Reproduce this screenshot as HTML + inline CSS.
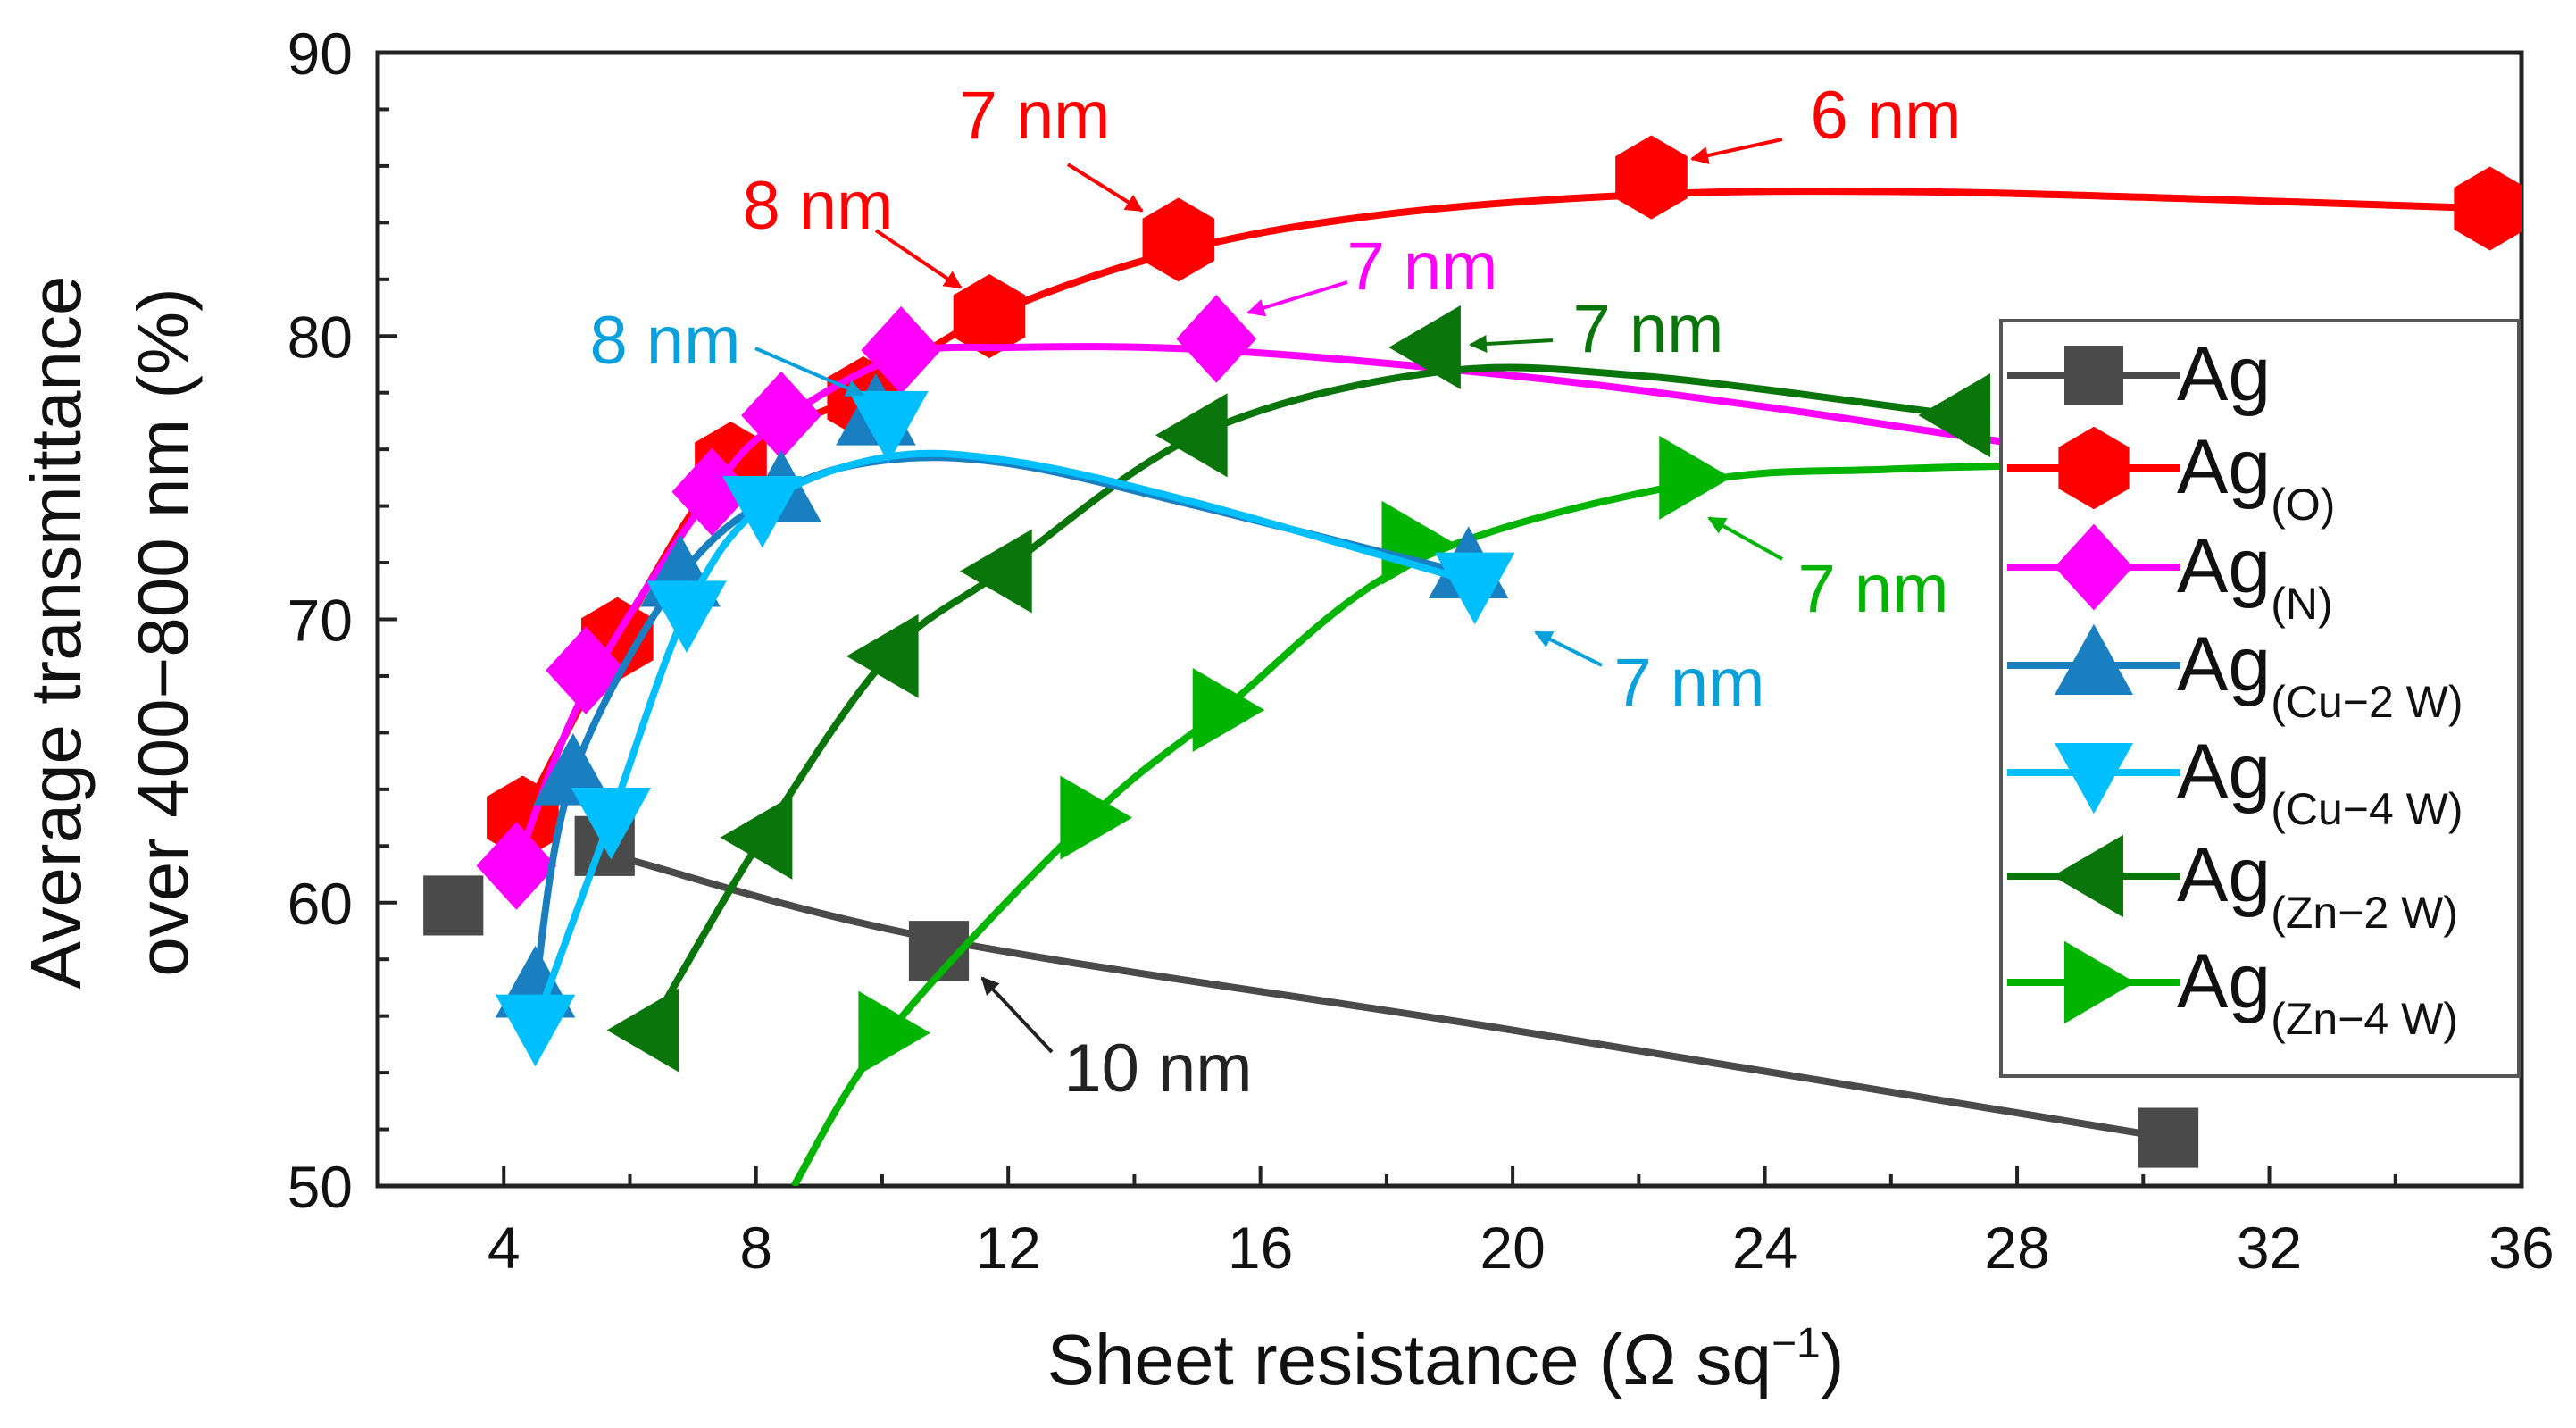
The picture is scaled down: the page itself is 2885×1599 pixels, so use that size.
<!DOCTYPE html>
<html><head><meta charset="utf-8"><style>
html,body{margin:0;padding:0;background:#fff;}
svg{display:block;font-family:"Liberation Sans",sans-serif;}
</style></head><body>
<svg id="chart" width="2885" height="1599" viewBox="0 0 2885 1599" xmlns="http://www.w3.org/2000/svg">
<defs>
<marker id="ah" viewBox="0 0 10 10" refX="9" refY="5" markerWidth="5" markerHeight="5" orient="auto-start-reverse"><path d="M0,0 L10,5 L0,10 z" fill="context-stroke"/></marker>
</defs>
<g id="plot"></g>
</svg>
<script>
const xTicks=[4,8,12,16,20,24,28,32,36];
const yTicks=[50,60,70,80,90];
const seriesNames=["Ag","Ag(O)","Ag(N)","Ag(Cu-2 W)","Ag(Cu-4 W)","Ag(Zn-2 W)","Ag(Zn-4 W)"];
const agX=[3.2,5.6,10.9,30.4];
const agY=[59.9,62.0,58.3,51.7];
const agOX=[4.3,5.8,7.6,9.7,11.7,14.7,22.2,35.5];
const agOY=[63.0,69.3,75.5,77.8,80.7,83.4,85.6,84.5];
const agNX=[4.2,5.3,7.3,8.4,10.3,15.3];
const agNY=[61.3,68.2,74.5,77.2,79.5,79.9];
const cu2X=[4.5,5.1,6.8,8.4,9.9,19.3];
const cu2Y=[57.0,64.5,71.5,74.5,77.2,71.8];
const cu4X=[4.5,5.7,6.9,8.1,10.1,19.4];
const cu4Y=[55.7,63.0,70.3,74.0,77.0,71.3];
const zn2X=[6.3,8.1,10.1,11.9,15.0,18.7,27.1];
const zn2Y=[55.5,62.3,68.7,71.7,76.5,79.6,77.2];
const zn4X=[10.1,13.3,15.4,18.4,22.8];
const zn4Y=[55.4,63.0,66.8,72.7,75.0];
// fitted curves
const agCurveX=[6,10.9,20,30.4];
const agCurveY=[61.5,58.7,55.5,51.7];
const oCurveX=[4.3,5.8,7.6,9.7,11.7,14.7,18,22.2,26,30,35.5];
const oCurveY=[63.0,69.3,75.5,78.0,80.7,83.0,84.3,85.0,85.1,84.9,84.5];
const nCurveX=[4.2,5.3,7.3,8.4,10.3,12,15.3,20,24,28,30];
const nCurveY=[61.3,67.5,74.5,77.0,79.3,79.6,79.5,78.6,77.5,76.2,75.8];
const cu2CurveX=[4.5,5.1,6.8,8.4,10,12,15,19.3];
const cu2CurveY=[57.0,64.5,71.5,74.5,75.6,75.5,74.0,71.6];
const cu4CurveX=[4.5,5.7,6.9,8.1,10,12,15,19.4];
const cu4CurveY=[55.7,63.0,70.3,74.0,75.7,75.6,74.1,71.3];
const zn2CurveX=[6.3,8.1,10.1,11.9,15.0,18.7,22,27.1];
const zn2CurveY=[55.5,62.3,68.7,71.7,76.5,78.7,78.6,77.2];
const zn4CurveX=[8.6,10.1,13.3,15.4,18.4,22.8,26,30];
const zn4CurveY=[50.0,55.4,63.0,66.8,72.0,74.8,75.3,75.5];

const L=423,R=2824,T=59,B=1328;
const xs=v=>L+(v-2)/(36-2)*(R-L);
const ys=v=>B-(v-50)/(90-50)*(B-T);
const NS="http://www.w3.org/2000/svg";
const g=document.getElementById('plot');
function mk(tag,attrs,parent){const e=document.createElementNS(NS,tag);for(const k in attrs)e.setAttribute(k,attrs[k]);(parent||g).appendChild(e);return e;}
function smooth(X,Y){const p=X.map((x,i)=>[xs(x),ys(Y[i])]);let d=`M${p[0][0]},${p[0][1]}`;for(let i=0;i<p.length-1;i++){const p0=p[i-1]||p[i],p1=p[i],p2=p[i+1],p3=p[i+2]||p2;const c1=[p1[0]+(p2[0]-p0[0])/6,p1[1]+(p2[1]-p0[1])/6],c2=[p2[0]-(p3[0]-p1[0])/6,p2[1]-(p3[1]-p1[1])/6];d+=` C${c1[0]},${c1[1]} ${c2[0]},${c2[1]} ${p2[0]},${p2[1]}`;}return d;}
function marker(type,cx,cy,color,parent,sc){sc=sc||1.12;let pts;
if(type==='sq'){pts=[[-30,-30],[30,-30],[30,30],[-30,30]];}
else if(type==='hex'){pts=[[0,-42],[36,-21],[36,21],[0,42],[-36,21],[-36,-21]];}
else if(type==='dia'){pts=[[0,-44],[40,0],[0,44],[-40,0]];}
else if(type==='up'){pts=[[0,-42],[40,30],[-40,30]];}
else if(type==='down'){pts=[[0,42],[40,-30],[-40,-30]];}
else if(type==='left'){pts=[[-42,0],[30,-42],[30,42]];}
else {pts=[[42,0],[-30,-42],[-30,42]];}
return mk('polygon',{points:pts.map(p=>(cx+p[0]*sc)+','+(cy+p[1]*sc)).join(' '),fill:color},parent);}

const cp=mk('clipPath',{id:'clip'},document.querySelector('defs'));mk('rect',{x:L,y:T,width:R-L,height:B-T},cp);

const frame=mk('rect',{x:L,y:T,width:R-L,height:B-T,fill:'none',stroke:'#222','stroke-width':5});


for(let v=2;v<=36;v+=2){const maj=xTicks.includes(v);const t=mk('line',{x1:xs(v),x2:xs(v),y1:B,y2:B-(maj?22:13),stroke:'#222','stroke-width':4});

}
for(let v=50;v<=90;v+=2){const maj=yTicks.includes(v);const t=mk('line',{x1:L,x2:L+(maj?22:13),y1:ys(v),y2:ys(v),stroke:'#222','stroke-width':4});

}
xTicks.forEach(v=>{const t=mk('text',{x:xs(v),y:1420,'font-size':66,'text-anchor':'middle',fill:'#111'});t.textContent=v;

});
yTicks.forEach(v=>{const t=mk('text',{x:395,y:ys(v)+24,'font-size':66,'text-anchor':'end',fill:'#111'});t.textContent=v;

});
let xt=mk('text',{x:1619,y:1550,'font-size':80,'text-anchor':'middle',fill:'#111'});xt.textContent='Sheet resistance (Ω sq';
const sup=mk('tspan',{dy:-30,'font-size':48},xt);sup.textContent='−1';const cl=mk('tspan',{dy:30},xt);cl.textContent=')';


let yt=mk('text',{transform:'translate(90,708) rotate(-90)','font-size':80,'text-anchor':'middle',fill:'#111'});yt.textContent='Average transmittance';


let yt2=mk('text',{transform:'translate(210,708) rotate(-90)','font-size':80,'text-anchor':'middle',fill:'#111'});yt2.textContent='over 400−800 nm (%)';



const series=[
 {name:'ag',X:agX,Y:agY,cx:agCurveX,cy:agCurveY,c:'#4a4a4a',m:'sq'},
 {name:'ag-o',X:agOX,Y:agOY,cx:oCurveX,cy:oCurveY,c:'#ff0000',m:'hex'},
 {name:'ag-n',X:agNX,Y:agNY,cx:nCurveX,cy:nCurveY,c:'#ff00ff',m:'dia'},
 {name:'ag-zn-2w',X:zn2X,Y:zn2Y,cx:zn2CurveX,cy:zn2CurveY,c:'#0a750a',m:'left'},
 {name:'ag-zn-4w',X:zn4X,Y:zn4Y,cx:zn4CurveX,cy:zn4CurveY,c:'#00b400',m:'right'},
 {name:'ag-cu-2w',X:cu2X,Y:cu2Y,cx:cu2CurveX,cy:cu2CurveY,c:'#1a7fc1',m:'up'},
 {name:'ag-cu-4w',X:cu4X,Y:cu4Y,cx:cu4CurveX,cy:cu4CurveY,c:'#00bfff',m:'down'}
];
const clipG=mk('g',{'clip-path':'url(#clip)'});
series.forEach(s=>{
 const sg=mk('g',{},clipG);
 
 
 const p=mk('path',{d:smooth(s.cx,s.cy),fill:'none',stroke:s.c,'stroke-width':8},sg);
 
 
 s.X.forEach((x,i)=>{const m=marker(s.m,xs(x),ys(s.Y[i]),s.c,sg);
 
 });
});

const ann=[
 {t:'7 nm',x:1159,y:155,c:'#ff0000',a:[1196,184,1279,236]},
 {t:'6 nm',x:2112,y:155,c:'#ff0000',a:[1996,156,1895,178]},
 {t:'8 nm',x:916,y:256,c:'#ff0000',a:[981,258,1076,322]},
 {t:'7 nm',x:1593,y:324,c:'#ff00ff',a:[1509,316,1398,350]},
 {t:'8 nm',x:745,y:407,c:'#0aa0dc',a:[846,390,966,442]},
 {t:'7 nm',x:1846,y:394,c:'#0a750a',a:[1739,381,1647,386]},
 {t:'7 nm',x:2098,y:685,c:'#00b400',a:[1996,626,1914,580]},
 {t:'7 nm',x:1892,y:790,c:'#0aa0dc',a:[1794,745,1720,708]},
 {t:'10 nm',x:1297,y:1222,c:'#222',a:[1178,1178,1100,1095]}
];
ann.forEach(a=>{const t=mk('text',{x:a.x,y:a.y,'font-size':76,'text-anchor':'middle',fill:a.c});t.textContent=a.t;


const l=mk('line',{x1:a.a[0],y1:a.a[1],x2:a.a[2],y2:a.a[3],stroke:a.c,'stroke-width':4,'marker-end':'url(#ah)'});

});

const lg=mk('g',{});


mk('rect',{x:2241,y:359,width:580,height:846,fill:'#fff',stroke:'#555','stroke-width':4},lg);
const legOrder=[0,1,2,5,6,3,4];
const rowY=[420,524,635,745,865,981,1100];
const subs=['','(O)','(N)','(Cu−2 W)','(Cu−4 W)','(Zn−2 W)','(Zn−4 W)'];
legOrder.forEach((si,i)=>{const s=series[si];const y=rowY[i];
 const e=mk('g',{},lg);
 
 
 mk('line',{x1:2248,x2:2442,y1:y,y2:y,stroke:s.c,'stroke-width':8},e);
 marker(s.m,2345,y,s.c,e,1.1);
 const t=mk('text',{x:2438,y:y+28,'font-size':86,fill:'#111'},e);t.textContent='Ag';
 if(subs[i]){const ts=mk('tspan',{dy:30,'font-size':50},t);ts.textContent=subs[i];}
});
</script>
</body></html>
